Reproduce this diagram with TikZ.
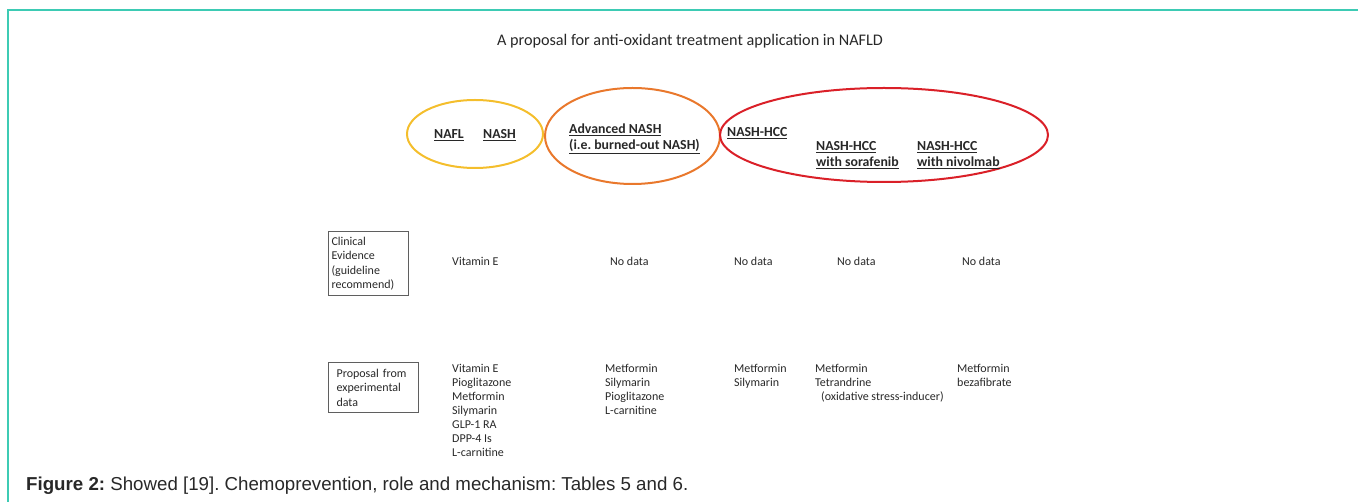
\documentclass[tikz,border=0pt]{standalone}
\usepackage{fontspec}
\setmainfont{Carlito}
\newfontfamily\capfont{Liberation Sans}
\usetikzlibrary{shapes.geometric}

\definecolor{frameteal}{RGB}{61,203,180}
\definecolor{stageyellow}{RGB}{244,190,44}
\definecolor{stageorange}{RGB}{233,120,44}
\definecolor{stagered}{RGB}{218,32,40}
\definecolor{inktext}{RGB}{40,40,40}
\definecolor{boxline}{RGB}{95,95,95}

\frenchspacing

\begin{document}
\begin{tikzpicture}[x=1pt,y=-1pt,
  stage/.style={draw, ellipse, line width=2pt, inner sep=0pt},
  hdr/.style={font=\bfseries\fontsize{13.8}{16}\selectfont, text=inktext, align=left, inner sep=0pt},
  body/.style={font=\fontsize{12}{14}\selectfont, text=inktext, align=left, inner sep=0pt},
  rowbox/.style={draw=boxline, line width=1.1pt, anchor=north west,
    font=\fontsize{12}{14.5}\selectfont, text=inktext, align=left,
    text width=74pt, inner ysep=0pt}
]
\useasboundingbox (0,0) rectangle (1358,502);

% page frame (top and left rules)
\draw[frameteal, line width=2pt] (1358,10.5) -- (7.5,10.5) -- (7.5,502);

% title
\node[font=\fontsize{16.2}{19}\selectfont, text=inktext, inner sep=0pt] (title) at (690,41.5)
  {A proposal for anti-oxidant treatment application in NAFLD};

% disease stages
\node[stage, draw=stageyellow, minimum width=136pt, minimum height=68pt] (early) at (475,134) {};
\node[stage, draw=stageorange, minimum width=175pt, minimum height=96pt] (adv) at (632.5,136) {};
\node[stage, draw=stagered, minimum width=328pt, minimum height=94pt] (hcc) at (884,135) {};

\node[hdr] (nafl) at (449,135) {\underline{NAFL}};
\node[hdr] (nash) at (499.5,135) {\underline{NASH}};
\node[hdr, anchor=west] (advnash) at (569,139) {\underline{Advanced NASH}\\\underline{(i.e. burned-out NASH)}};
\node[hdr, anchor=west] (hccplain) at (727,133) {\underline{NASH-HCC}};
\node[hdr, anchor=west] (hccsora) at (816,155) {\underline{NASH-HCC}\\\underline{with sorafenib}};
\node[hdr, anchor=west] (hccnivo) at (917,155) {\underline{NASH-HCC}\\\underline{with nivolmab}};

% row headings
\node[rowbox, minimum width=80pt, minimum height=64pt, inner xsep=3pt] (clin) at (328,231)
  {Clinical\\Evidence\\(guideline\\recommend)};
\node[rowbox, minimum width=90pt, minimum height=50pt, inner xsep=8pt] (prop) at (328,362)
  {Proposal from\\experimental\\data};

% clinical evidence row
\node[body, anchor=west] (c1) at (452,261) {Vitamin E};
\node[body, anchor=west] (c2) at (610,261) {No data};
\node[body, anchor=west] (c3) at (734,261) {No data};
\node[body, anchor=west] (c4) at (837,261) {No data};
\node[body, anchor=west] (c5) at (962,261) {No data};

% experimental proposal row
\node[body, anchor=north west] (p1) at (452,364)
  {Vitamin E\\Pioglitazone\\Metformin\\Silymarin\\GLP-1 RA\\DPP-4 Is\\L-carnitine};
\node[body, anchor=north west] (p2) at (605,364)
  {Metformin\\Silymarin\\Pioglitazone\\L-carnitine};
\node[body, anchor=north west] (p3) at (734,364)
  {Metformin\\Silymarin};
\node[body, anchor=north west] (p4) at (815,364)
  {Metformin\\Tetrandrine\\\hspace*{6pt}(oxidative stress-inducer)};
\node[body, anchor=north west] (p5) at (957,364)
  {Metformin\\bezafibrate};

% caption
\node[anchor=west, font=\capfont\fontsize{18.7}{21}\selectfont, text=inktext, inner sep=0pt] (caption) at (26,485.5)
  {\textbf{Figure 2:} Showed [19]. Chemoprevention, role and mechanism: Tables 5 and 6.};
\end{tikzpicture}
\end{document}
